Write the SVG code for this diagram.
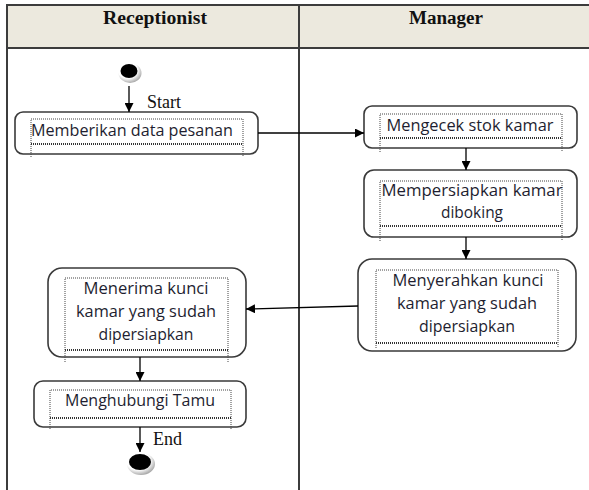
<svg xmlns="http://www.w3.org/2000/svg" width="589" height="490" viewBox="0 0 589 490">
  <defs>
    <marker id="arrow" viewBox="0 0 10 10" refX="10" refY="5" markerWidth="9" markerHeight="9" markerUnits="userSpaceOnUse" orient="auto">
      <path d="M0,0 L10,5 L0,10 z" fill="#000"/>
    </marker>
    <radialGradient id="ring" cx="0.4" cy="0.35" r="0.7">
      <stop offset="0.6" stop-color="#ffffff"/>
      <stop offset="1" stop-color="#9a9a9a"/>
    </radialGradient>
    <style>
      .lane { stroke: #3c3c3c; stroke-width: 2; fill: none; }
      .head { font-family: "Liberation Serif", "Times New Roman", serif; font-weight: bold; font-size: 18px; fill: #111; text-anchor: middle; }
      .lbl { font-family: "Liberation Serif", "Times New Roman", serif; font-size: 18px; fill: #111; }
      .box { fill: #fff; stroke: #3a3a3a; stroke-width: 1.6; }
      .dot { fill: none; stroke: #444; stroke-width: 1; stroke-dasharray: 1 1; }
      .dotb { fill: none; stroke: #333; stroke-width: 1.8; stroke-dasharray: 1 1; }
      .txt { font-family: "Open Sans", "Noto Sans", sans-serif; font-size: 15.5px; fill: #1e1e30; text-anchor: middle; }
      .edge { stroke: #000; stroke-width: 1.3; fill: none; marker-end: url(#arrow); }
    </style>
  </defs>

  <!-- swimlane frame -->
  <g id="lanes">
    <rect x="7" y="5" width="582" height="43" fill="#ece9de"/>
    <line class="lane" x1="7" y1="5" x2="589" y2="5"/>
    <line class="lane" x1="7" y1="48" x2="589" y2="48"/>
    <line class="lane" x1="7" y1="4" x2="7" y2="490"/>
    <line class="lane" x1="299" y1="5" x2="299" y2="490"/>
    <text class="head" x="155" y="24" textLength="104" lengthAdjust="spacingAndGlyphs">Receptionist</text>
    <text class="head" x="446" y="24" textLength="74" lengthAdjust="spacingAndGlyphs">Manager</text>
  </g>

  <!-- initial state -->
  <g id="start">
    <ellipse cx="130" cy="73" rx="11.5" ry="10" fill="url(#ring)"/>
    <ellipse cx="129" cy="71" rx="8.5" ry="7" fill="#000"/>
  </g>

  <g id="n1">
    <rect class="box" x="15" y="112" width="243" height="42" rx="8"/>
    <path class="dot" d="M31,157 V119 H243 V157"/>
    <line class="dotb" x1="31" y1="144" x2="243" y2="144"/>
    <text class="txt" x="132" y="136" textLength="202" lengthAdjust="spacingAndGlyphs">Memberikan data pesanan</text>
  </g>

  <g id="n2">
    <rect class="box" x="364" y="106" width="213" height="42" rx="8"/>
    <path class="dot" d="M380,152 V114 H562 V152"/>
    <line class="dotb" x1="380" y1="138" x2="562" y2="138"/>
    <text class="txt" x="470" y="131" textLength="167" lengthAdjust="spacingAndGlyphs">Mengecek stok kamar</text>
  </g>

  <g id="n3">
    <rect class="box" x="364" y="170" width="213" height="67" rx="10"/>
    <path class="dot" d="M380,241 V181 H562 V241"/>
    <line class="dotb" x1="380" y1="226" x2="562" y2="226"/>
    <text class="txt" x="472" y="196" textLength="181" lengthAdjust="spacingAndGlyphs">Mempersiapkan kamar</text>
    <text class="txt" x="472" y="218" textLength="62" lengthAdjust="spacingAndGlyphs">diboking</text>
  </g>

  <g id="n4">
    <rect class="box" x="358" y="259" width="218" height="92" rx="14"/>
    <path class="dot" d="M376,348 V270 H558 V348"/>
    <line class="dotb" x1="376" y1="343" x2="558" y2="343"/>
    <text class="txt" x="468" y="286" textLength="151" lengthAdjust="spacingAndGlyphs">Menyerahkan kunci</text>
    <text class="txt" x="467" y="309" textLength="140" lengthAdjust="spacingAndGlyphs">kamar yang sudah</text>
    <text class="txt" x="467" y="332" textLength="96" lengthAdjust="spacingAndGlyphs">dipersiapkan</text>
  </g>

  <g id="n5">
    <rect class="box" x="48" y="268" width="198" height="89" rx="14"/>
    <path class="dot" d="M65,362 V278 H228 V362"/>
    <line class="dotb" x1="65" y1="350" x2="228" y2="350"/>
    <text class="txt" x="146" y="294" textLength="125" lengthAdjust="spacingAndGlyphs">Menerima kunci</text>
    <text class="txt" x="146" y="317" textLength="140" lengthAdjust="spacingAndGlyphs">kamar yang sudah</text>
    <text class="txt" x="146" y="340" textLength="95" lengthAdjust="spacingAndGlyphs">dipersiapkan</text>
  </g>

  <g id="n6">
    <rect class="box" x="34" y="381" width="212" height="46" rx="9"/>
    <path class="dot" d="M50,429 V390 H231 V429"/>
    <line class="dotb" x1="50" y1="418" x2="231" y2="418"/>
    <text class="txt" x="140" y="406" textLength="150" lengthAdjust="spacingAndGlyphs">Menghubungi Tamu</text>
  </g>

  <!-- final state -->
  <g id="end">
    <ellipse cx="141" cy="464" rx="14" ry="11" fill="url(#ring)"/>
    <ellipse cx="140" cy="462" rx="11" ry="8" fill="#000"/>
  </g>

  <!-- transitions -->
  <g id="connectors">
    <line class="edge" x1="129" y1="86" x2="129" y2="112"/>
    <line class="edge" x1="258" y1="133" x2="364" y2="133"/>
    <line class="edge" x1="466" y1="148" x2="466" y2="170"/>
    <line class="edge" x1="466" y1="237" x2="466" y2="259"/>
    <line class="edge" x1="358" y1="306" x2="246" y2="309"/>
    <line class="edge" x1="140" y1="357" x2="140" y2="381"/>
    <line class="edge" x1="140" y1="427" x2="140" y2="452"/>
    <text class="lbl" x="147" y="108">Start</text>
    <text class="lbl" x="153" y="445">End</text>
  </g>
</svg>
